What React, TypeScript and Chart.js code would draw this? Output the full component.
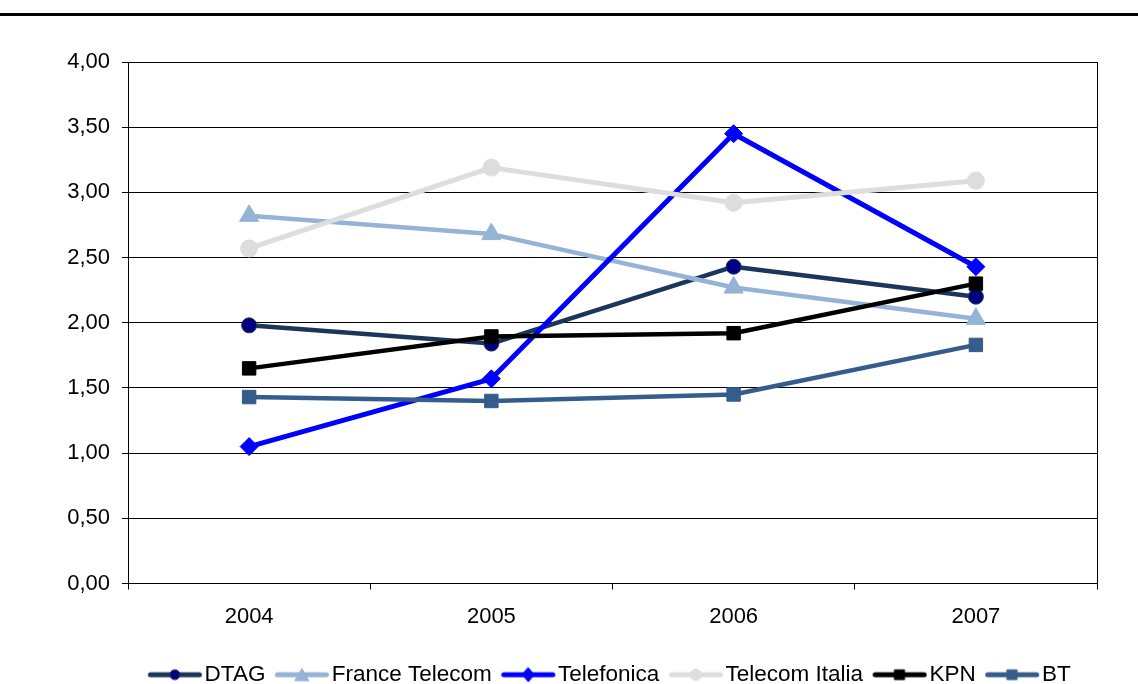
import React, { useEffect, useRef } from 'react';
import { Chart, registerables } from 'chart.js';

Chart.register(...registerables);

// ---- data ----
const categories = ['2004', '2005', '2006', '2007'];
const seriesNames = ['DTAG', 'France Telecom', 'Telefonica', 'Telecom Italia', 'KPN', 'BT'];
const dtag = [1.98, 1.84, 2.43, 2.2];
const franceTelecom = [2.82, 2.68, 2.27, 2.03];
const telefonica = [1.05, 1.57, 3.45, 2.43];
const telecomItalia = [2.57, 3.19, 2.92, 3.09];
const kpn = [1.65, 1.895, 1.92, 2.3];
const bt = [1.43, 1.4, 1.45, 1.83];
const yMin = 0;
const yMax = 4;
const yStep = 0.5;

const seriesValues = [dtag, franceTelecom, telefonica, telecomItalia, kpn, bt];

// ---- styles ----
type Style = {
  line: string;
  fill: string;
  border: string;
  shape: 'circle' | 'triangle' | 'rectRot' | 'rect';
  radius: number;
  width: number;
  legendSize: number;
};

const styles: Style[] = [
  { line: '#1B365A', fill: '#000080', border: '#1B365A', shape: 'circle', radius: 7.5, width: 4.5, legendSize: 5 },
  { line: '#95B3D7', fill: '#95B3D7', border: '#95B3D7', shape: 'triangle', radius: 11, width: 4.5, legendSize: 8 },
  { line: '#0000FF', fill: '#0000FF', border: '#0000FF', shape: 'rectRot', radius: 9, width: 5, legendSize: 7 },
  { line: '#DDDDDD', fill: '#DDDDDD', border: '#DDDDDD', shape: 'circle', radius: 8.5, width: 5, legendSize: 5.5 },
  { line: '#000000', fill: '#000000', border: '#000000', shape: 'rect', radius: 9.5, width: 4.5, legendSize: 7 },
  { line: '#345D8C', fill: '#345D8C', border: '#345D8C', shape: 'rect', radius: 9.5, width: 4.5, legendSize: 7 },
];

const FONT = 'Liberation Sans, Arial, sans-serif';

function makeLegendImage(s: Style): HTMLCanvasElement {
  const W = 80;
  const H = 24;
  const c = document.createElement('canvas');
  c.width = W;
  c.height = H;
  const ctx = c.getContext('2d')!;
  const L = 22;
  const len = 54;
  const cy = H / 2;
  ctx.strokeStyle = s.line;
  ctx.lineWidth = 5;
  ctx.lineCap = 'round';
  ctx.beginPath();
  ctx.moveTo(L + 2.5, cy);
  ctx.lineTo(L + len - 2.5, cy);
  ctx.stroke();
  const cx = L + len / 2;
  const r = s.legendSize;
  ctx.fillStyle = s.fill;
  ctx.strokeStyle = s.border;
  ctx.lineWidth = 1;
  ctx.beginPath();
  if (s.shape === 'circle') {
    ctx.arc(cx, cy, r, 0, Math.PI * 2);
  } else if (s.shape === 'triangle') {
    const h = r * 1.5;
    const half = r * 0.866;
    ctx.moveTo(cx, cy - h / 2);
    ctx.lineTo(cx + half, cy + h / 2);
    ctx.lineTo(cx - half, cy + h / 2);
    ctx.closePath();
  } else if (s.shape === 'rectRot') {
    ctx.moveTo(cx, cy - r);
    ctx.lineTo(cx + r * 0.85, cy);
    ctx.lineTo(cx, cy + r);
    ctx.lineTo(cx - r * 0.85, cy);
    ctx.closePath();
  } else {
    ctx.rect(cx - r * 0.7, cy - r * 0.7, r * 1.4, r * 1.4);
  }
  ctx.fill();
  ctx.stroke();
  return c;
}

const rightBorder = {
  id: 'rightBorder',
  beforeDatasetsDraw(chart: any) {
    const { ctx, chartArea } = chart;
    const x = Math.round(chartArea.right) + 0.5;
    ctx.save();
    ctx.strokeStyle = '#000';
    ctx.lineWidth = 1;
    ctx.beginPath();
    ctx.moveTo(x, chartArea.top);
    ctx.lineTo(x, chartArea.bottom);
    ctx.stroke();
    ctx.restore();
  },
};

// centre the legend under the plot area rather than the whole canvas
const legendUnderPlot = {
  id: 'legendUnderPlot',
  afterLayout(chart: any) {
    const lg = chart.legend;
    if (lg) {
      lg.left = 112;
      lg.width = lg.right - lg.left;
    }
  },
};

export default function App() {
  const ref = useRef<HTMLCanvasElement>(null);

  useEffect(() => {
    document.body.style.margin = '0';
    const legendImages = styles.map(makeLegendImage);
    const datasets = seriesNames.map((name, i) => {
      const s = styles[i];
      return {
        label: name,
        data: seriesValues[i],
        borderColor: s.line,
        backgroundColor: s.fill,
        borderWidth: s.width,
        borderJoinStyle: 'round' as const,
        borderCapStyle: 'round' as const,
        tension: 0,
        fill: false,
        pointStyle: s.shape,
        pointRadius: s.radius,
        pointHoverRadius: s.radius,
        pointBackgroundColor: s.fill,
        pointBorderColor: s.border,
        pointBorderWidth: 1,
        order: seriesNames.length - i,
      };
    });

    const chart = new Chart(ref.current!, {
      type: 'line',
      data: { labels: categories, datasets },
      plugins: [rightBorder, legendUnderPlot],
      options: {
        animation: false,
        responsive: false,
        layout: { padding: { left: 0, right: 41, top: 62, bottom: 0 } },
        plugins: {
          legend: {
            position: 'bottom',
            labels: {
              usePointStyle: true,
              pointStyleWidth: 55,
              padding: 0,
              color: '#000',
              font: { family: FONT, size: 22.5 },
              sort: (a: any, b: any) => a.datasetIndex - b.datasetIndex,
              generateLabels: (c: any) => {
                const items = (Chart.defaults.plugins.legend.labels as any).generateLabels(c);
                return items.map((it: any) => ({ ...it, pointStyle: legendImages[it.datasetIndex] }));
              },
            },
          },
          tooltip: { enabled: false },
        },
        scales: {
          x: {
            type: 'category',
            offset: true,
            grid: { offset: true, drawOnChartArea: false, drawTicks: true, tickLength: 6, color: '#000' },
            border: { color: '#000', width: 1 },
            ticks: { color: '#000', font: { family: FONT, size: 22 }, padding: 14, maxRotation: 0 },
            afterFit: (s: any) => {
              s.height = 80;
            },
          },
          y: {
            min: yMin,
            max: yMax,
            ticks: {
              stepSize: yStep,
              color: '#000',
              font: { family: FONT, size: 22 },
              padding: 12,
              callback: (v: any) => Number(v).toFixed(2).replace('.', ','),
            },
            grid: { color: '#000', lineWidth: 1, tickLength: 6 },
            border: { color: '#000', width: 1 },
            afterFit: (s: any) => {
              s.width = 128;
            },
          },
        },
      },
    });
    return () => chart.destroy();
  }, []);

  return (
    <div style={{ position: 'fixed', left: 0, top: 0, width: 1138, height: 684, background: '#fff', overflow: 'hidden' }}>
      <canvas ref={ref} width={1138} height={696} style={{ position: 'absolute', left: 0, top: 0 }} />
      <div style={{ position: 'absolute', left: 0, top: 13, width: 1138, height: 3, background: '#000' }} />
    </div>
  );
}
